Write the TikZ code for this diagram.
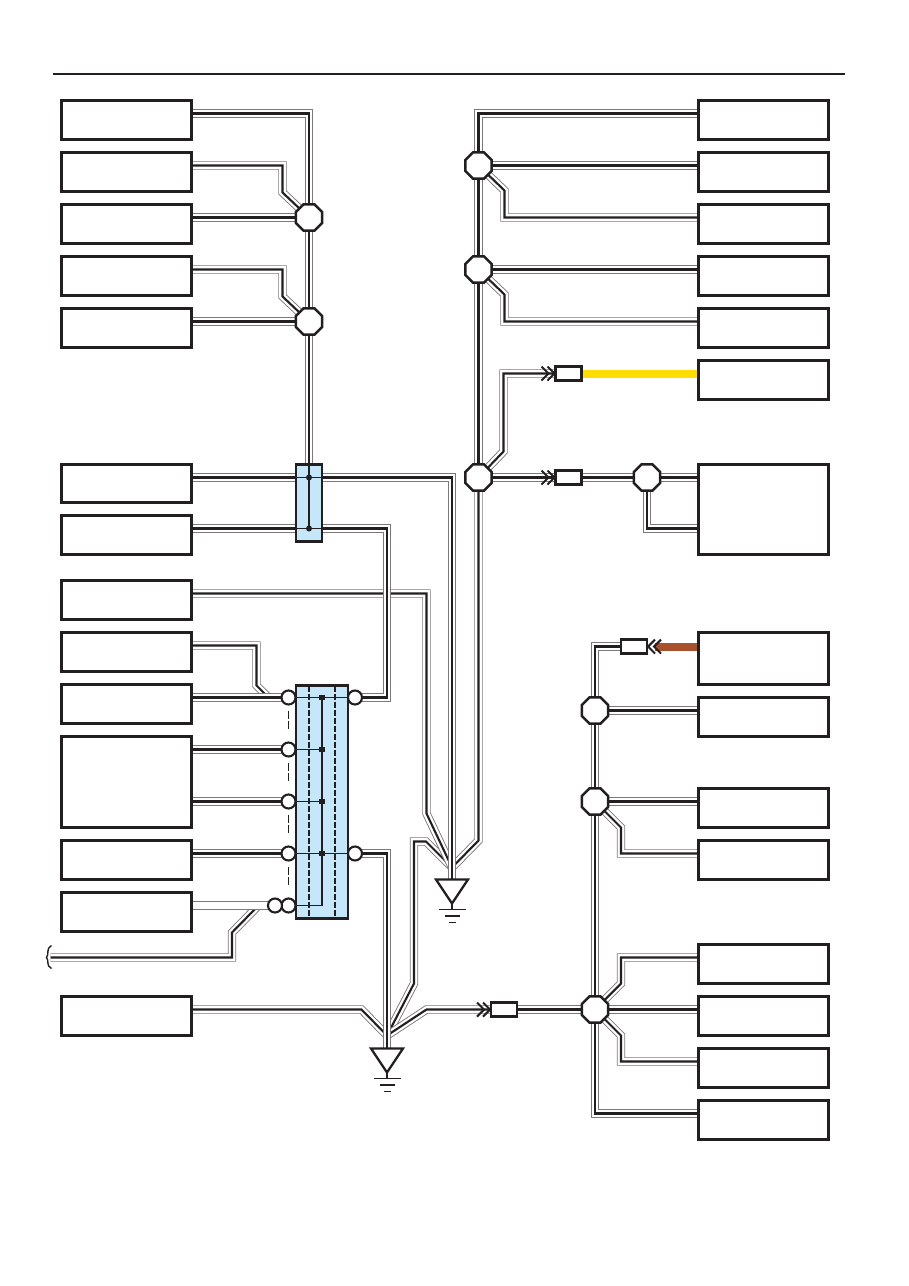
\documentclass[tikz,border=0pt]{standalone}
\usetikzlibrary{shapes.geometric}
\pgfdeclarelayer{wires}
\pgfdeclarelayer{blue}
\pgfdeclarelayer{thin}
\pgfsetlayers{wires,blue,thin,main}
\definecolor{ink}{HTML}{231F20}
\definecolor{casing}{HTML}{7A7A7A}
\definecolor{panel}{HTML}{C6E7F9}
\definecolor{feedY}{HTML}{FFDD00}
\definecolor{feedB}{HTML}{A9502C}
\tikzset{
  wire/.style={preaction={draw=casing,line width=8.4pt},preaction={draw=white,line width=6.6pt},draw=ink,line width=2.1pt,line join=miter},
  hollowwire/.style={preaction={draw=casing,line width=8.4pt},draw=white,line width=6.6pt},
  bx/.style={draw=ink,line width=2.3pt,fill=white,rectangle,inner sep=0pt,outer sep=0pt,minimum width=130pt},
  conn/.style={draw=ink,line width=2.3pt,fill=white,rectangle,inner sep=0pt,outer sep=0pt,minimum width=26pt,minimum height=14pt},
  oct/.style={draw=ink,line width=2.4pt,fill=white,regular polygon,regular polygon sides=8,inner sep=0pt,outer sep=0pt,minimum size=28.5pt},
  pin/.style={draw=ink,line width=2.1pt,fill=white,circle,inner sep=0pt,outer sep=0pt,minimum size=14pt},
  bluepanel/.style={draw=ink,line width=2.3pt,fill=panel,rectangle,inner sep=0pt,outer sep=0pt},
  dot/.style={fill=ink,circle,inner sep=0pt,outer sep=0pt,minimum size=6pt},
  thinl/.style={draw=ink,line width=1.3pt},
  dashl/.style={draw=ink,line width=1.4pt,dash pattern=on 6pt off 2pt},
  chevron/.style={draw=ink,line width=2.1pt,line join=miter},
  tri/.style={draw=ink,line width=2.3pt,fill=white,line join=miter},
  gnd/.style={draw=ink,line width=1.2pt},
  feed/.style={line width=8pt}
}
% two chevrons pointing at an anchor; #2 = -1 points right, +1 points left
\newcommand{\chevs}[2]{%
  \draw[chevron] ([shift={(#2*8,-7)}]#1) -- ([shift={(#2*1,0)}]#1) -- ([shift={(#2*8,7)}]#1);
  \draw[chevron] ([shift={(#2*14,-7)}]#1) -- ([shift={(#2*7,0)}]#1) -- ([shift={(#2*14,7)}]#1);
}
\newcommand{\lbox}[3]{\node[bx,minimum height=#3pt-#2pt] (#1) at (126,{(#2+#3)/2}) {};}
\newcommand{\rbox}[3]{\node[bx,minimum height=#3pt-#2pt] (#1) at (763,{(#2+#3)/2}) {};}
\begin{document}
\begin{tikzpicture}[x=1pt,y=-1pt]
\useasboundingbox (-0.5,-0.5) rectangle (908.5,1285.5);
\coordinate (ruleA) at (52,73);
\coordinate (ruleB) at (844,73);
\draw[ink,line width=2pt] (ruleA) -- (ruleB);

% boxes
\lbox{L1}{100}{139}\lbox{L2}{152}{191}\lbox{L3}{204}{243}\lbox{L4}{256}{295}\lbox{L5}{308}{347}
\lbox{L6}{464}{502}\lbox{L7}{515}{554}\lbox{L8}{580}{619}\lbox{L9}{632}{671}\lbox{L10}{684}{723}
\lbox{L11}{736}{827}\lbox{L12}{840}{879}\lbox{L13}{892}{931}\lbox{L14}{996}{1035}
\rbox{R1}{100}{139}\rbox{R2}{152}{191}\rbox{R3}{204}{243}\rbox{R4}{256}{295}\rbox{R5}{308}{347}
\rbox{R6}{360}{399}\rbox{R7}{464}{554}\rbox{R8}{632}{684}\rbox{R9}{697}{736}\rbox{R10}{788}{827}
\rbox{R11}{840}{879}\rbox{R12}{944}{983}\rbox{R13}{996}{1035}\rbox{R14}{1048}{1087}\rbox{R15}{1100}{1139}

% octagons
\node[oct] (O1) at (308.5,217) {};
\node[oct] (O2) at (308.5,321) {};
\node[oct] (O3) at (478,165) {};
\node[oct] (O4) at (478,269) {};
\node[oct] (O5) at (478,477) {};
\node[oct] (O6) at (646.5,477) {};
\node[oct] (O7) at (594.5,710) {};
\node[oct] (O8) at (594.5,801) {};
\node[oct] (O9) at (594.5,1009) {};

% in-line connectors
\node[conn] (K1) at (568,373) {};
\node[conn] (K2) at (568,477) {};
\node[conn] (K3) at (633.5,646) {};
\node[conn] (K4) at (503.5,1009) {};

% blue panels
\begin{pgfonlayer}{blue}
\node[bluepanel,minimum width=26pt,minimum height=77pt] (P1) at (308.5,502.5) {};
\node[bluepanel,minimum width=52pt,minimum height=233pt] (P2) at (321.5,801.5) {};
\end{pgfonlayer}
\node[dot] (D1) at (308.5,477) {};
\node[dot] (D2) at (308.5,528) {};
\node[dot,rectangle,minimum size=5.5pt] (D3) at (321.5,697) {};
\node[dot,rectangle,minimum size=5.5pt] (D4) at (321.5,749) {};
\node[dot,rectangle,minimum size=5.5pt] (D5) at (321.5,801) {};
\node[dot,rectangle,minimum size=5.5pt] (D6) at (321.5,853) {};
\coordinate (D7) at (321.5,905);

% pins
\node[pin] (C1) at (288,697) {};
\node[pin] (C2) at (288,749) {};
\node[pin] (C3) at (288,801) {};
\node[pin] (C4) at (288,853) {};
\node[pin] (C5) at (288,905) {};
\node[pin] (C6) at (274.5,905) {};
\node[pin] (C7) at (354.5,697) {};
\node[pin] (C8) at (354.5,853) {};

% grounds
\coordinate (T1) at (451.5,879);
\coordinate (T2) at (386.5,1048);
\coordinate (GU) at (451.5,867);
\coordinate (GL) at (386.5,1035);
\draw[tri] (T1) ++(-16,0) -- ++(32,0) -- ++(-16,24) -- cycle;
\draw[tri] (T2) ++(-16,0) -- ++(32,0) -- ++(-16,24) -- cycle;
\draw[gnd] (451.5,903) -- (451.5,909) (438,909) -- (465,909) (444,915.5) -- (459,915.5) (448,922) -- (455,922);
\draw[gnd] (386.5,1072) -- (386.5,1078) (373,1078) -- (400,1078) (379,1084.5) -- (394,1084.5) (383,1091) -- (390,1091);

% free end of the cut wire
\coordinate (W0) at (50,957);
\draw[ink,line width=1.4pt] (51,945) .. controls (45,948) and (49,954) .. (46,957) .. controls (49,960) and (45,965) .. (51,968);

\begin{pgfonlayer}{wires}
% left upper
\draw[wire] (L1.east|-0,113) -- (308.5,113) -- (O1.center);
\draw[wire] (L2.east|-0,165) -- (282,165) -- (282,192) -- (O1.center);
\draw[wire] (L3.east|-0,217) -- (O1.center);
\draw[wire] (L4.east|-0,269) -- (282,269) -- (282,296) -- (O2.center);
\draw[wire] (L5.east|-0,321) -- (O2.center);
\draw[wire] (O1.center) -- (O2.center);
\draw[wire] (O2.center) -- (D1.center);
% to upper ground: order matters
\draw[wire] (GL) -- (413.5,983) -- (413.5,841) -- (425.5,841) -- (GU);
\draw[wire] (L8.east|-0,593) -- (426,593) -- (426,813) -- (GU);
\draw[wire] (L7.east|-0,528) -- (386.5,528) -- (386.5,697) -- (C7.center);
\draw[wire] (R1.west|-0,113) -- (478,113) -- (O3.center);
\draw[wire] (O3.center) -- (O4.center);
\draw[wire] (O4.center) -- (O5.center);
\draw[wire] (O5.center) -- (478,840) -- (GU);
\draw[wire] (L6.east|-0,477) -- (451.5,477) -- (T1);
% right upper
\draw[wire] (R2.west|-0,165) -- (O3.center);
\draw[wire] (R3.west|-0,217) -- (504,217) -- (504,190) -- (O3.center);
\draw[wire] (R4.west|-0,269) -- (O4.center);
\draw[wire] (R5.west|-0,321) -- (504,321) -- (504,294) -- (O4.center);
\draw[wire] (K1.west) -- (503,373) -- (503,451) -- (O5.center);
\draw[wire] (O5.center) -- (K2.west);
\draw[wire] (K2.east) -- (O6.center);
\draw[wire] (O6.center) -- (R7.west|-0,477);
\draw[wire] (O6.center) -- (646.5,528) -- (R7.west|-0,528);
\draw[feedY,feed] (K1.east) -- (R6.west|-K1.east);
\draw[feedB,feed] ([xshift=8pt]K3.east) -- (R8.west|-K3.east);
% right lower
\draw[wire] (K3.west) -- (594.5,646) -- (O7.center);
\draw[wire] (O7.center) -- (R9.west|-0,710);
\draw[wire] (O7.center) -- (O8.center);
\draw[wire] (O8.center) -- (O9.center);
\draw[wire] (R10.west|-0,801) -- (O8.center);
\draw[wire] (R11.west|-0,853) -- (620.5,853) -- (620.5,827) -- (O8.center);
\draw[wire] (R12.west|-0,957) -- (620.5,957) -- (620.5,983) -- (O9.center);
\draw[wire] (R13.west|-0,1009) -- (O9.center);
\draw[wire] (R14.west|-0,1061) -- (620.5,1061) -- (620.5,1035) -- (O9.center);
\draw[wire] (R15.west|-0,1113) -- (594.5,1113) -- (O9.center);
\draw[wire] (K4.east) -- (O9.center);
\draw[wire] (GL) -- (426,1009) -- (K4.west);
% left lower
\draw[wire] (L9.east|-0,645) -- (256,645) -- (256,685) -- (268,697);
\draw[wire] (L10.east|-0,697) -- (C1.center);
\draw[wire] (L11.east|-0,749) -- (C2.center);
\draw[wire] (L11.east|-0,801) -- (C3.center);
\draw[wire] (L12.east|-0,853) -- (C4.center);
\draw[wire] (W0) -- (231.5,957) -- (231.5,932) -- (258,905);
\draw[hollowwire] (L13.east|-0,905) -- (C6.center);
\draw[wire] (L14.east|-0,1009) -- (361,1009) -- (GL);
\draw[wire] (C8.center) -- (386.5,853) -- (T2);
\end{pgfonlayer}

\begin{pgfonlayer}{thin}
\draw[thinl] (O2.center|-P1.north) -- (D2.center);
\draw[thinl] (P1.west|-D1) -- (P1.east|-D1);
\draw[thinl] (P1.west|-D2) -- (P1.east|-D2);
\draw[dashl] (308.5,685) -- (308.5,918);
\draw[dashl] (334.5,685) -- (334.5,918);
\draw[thinl] (D3.center) -- (D7);
\draw[thinl] (C1.center) -- (C7.center);
\draw[thinl] (C2.center) -- (D4.center);
\draw[thinl] (C3.center) -- (D5.center);
\draw[thinl] (C4.center) -- (C8.center);
\draw[thinl] (C5.center) -- (D7);
\end{pgfonlayer}

% dashed marks between the pins
\draw[ink,line width=1.1pt,dash pattern=on 8.5pt off 1.5pt] (C1.south) ++(0,6) -- ++(0,19);
\draw[ink,line width=1.1pt,dash pattern=on 8.5pt off 1.5pt] (C2.south) ++(0,6) -- ++(0,19);
\draw[ink,line width=1.1pt,dash pattern=on 8.5pt off 1.5pt] (C3.south) ++(0,6) -- ++(0,19);
\draw[ink,line width=1.1pt,dash pattern=on 8.5pt off 1.5pt] (C4.south) ++(0,6) -- ++(0,19);

% chevrons
\chevs{K1.west}{-1}
\chevs{K2.west}{-1}
\chevs{K3.east}{1}
\chevs{K4.west}{-1}
\end{tikzpicture}
\end{document}
